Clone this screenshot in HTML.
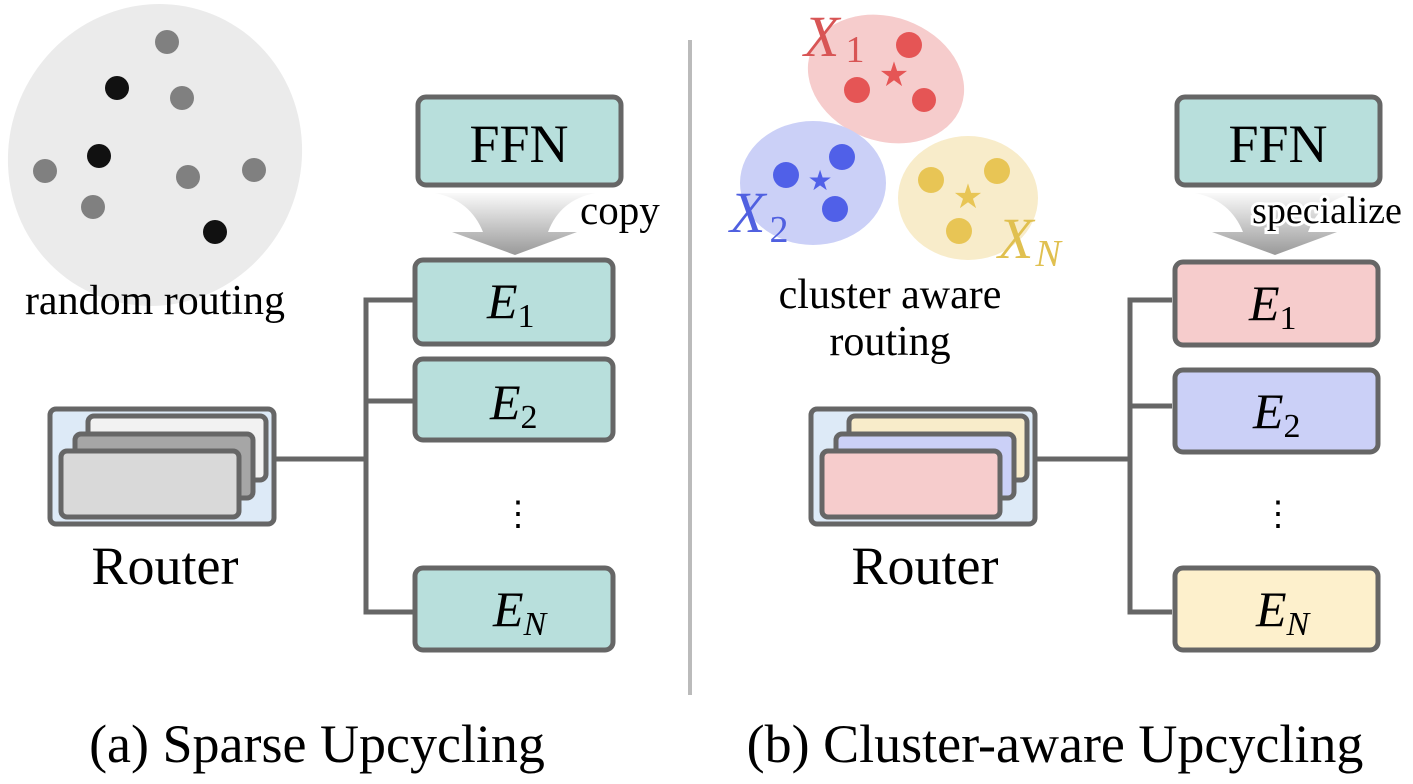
<!DOCTYPE html>
<html><head><meta charset="utf-8"><style>
body{margin:0;background:#fff;}
svg text{font-family:"Liberation Serif",serif;}
</style></head><body>
<svg width="1413" height="779" viewBox="0 0 1413 779" xmlns="http://www.w3.org/2000/svg">
<defs>
<linearGradient id="g" x1="0" y1="0" x2="0" y2="1"><stop offset="0" stop-color="#fafafa"/><stop offset="1" stop-color="#999"/></linearGradient>
</defs>
<ellipse cx="155" cy="155" rx="146" ry="152" fill="#ebebeb" transform="rotate(25 155 155)"/>
<g fill="#808080">
<circle cx="167" cy="42" r="12"/><circle cx="182" cy="98" r="12"/><circle cx="45" cy="171" r="12"/><circle cx="188" cy="177" r="12"/><circle cx="254" cy="170" r="12"/><circle cx="93" cy="207" r="12"/>
</g>
<g fill="#111"><circle cx="117" cy="88" r="12"/><circle cx="99" cy="156" r="12"/><circle cx="215" cy="232" r="12"/></g>
<text x="155" y="314" font-size="42" text-anchor="middle">random routing</text>

<line x1="690" y1="40" x2="690" y2="695" stroke="#bbb" stroke-width="4"/>

<g>
<rect x="418" y="97" width="203" height="88" rx="8" fill="#b8dfdc" stroke="#666" stroke-width="5"/>
<text x="519" y="162" font-size="54" text-anchor="middle">FFN</text>
<path d="M435 193 L595 193 Q560 200 548 232 L577 232 L515 255 L452 232 L483 232 Q470 200 435 193Z" fill="url(#g)"/>
<text x="580" y="224" font-size="41">copy</text>
<polyline points="413,300 366,300 366,612 413,612" fill="none" stroke="#666" stroke-width="5"/>
<line x1="366" y1="401" x2="413" y2="401" stroke="#666" stroke-width="5"/>
<line x1="275" y1="459" x2="366" y2="459" stroke="#666" stroke-width="5"/>
<rect x="415" y="260" width="198" height="84" rx="8" fill="#b8dfdc" stroke="#666" stroke-width="5"/>
<rect x="415" y="359" width="198" height="81" rx="8" fill="#b8dfdc" stroke="#666" stroke-width="5"/>
<rect x="415" y="568" width="198" height="82" rx="8" fill="#b8dfdc" stroke="#666" stroke-width="5"/>
<text x="487" y="318" font-size="50"><tspan font-style="italic">E</tspan><tspan font-size="34" dy="9">1</tspan></text>
<text x="490" y="419" font-size="50"><tspan font-style="italic">E</tspan><tspan font-size="34" dy="9">2</tspan></text>
<text x="518" y="525" font-size="34" text-anchor="middle">⋮</text>
<text x="493" y="626" font-size="50"><tspan font-style="italic">E</tspan><tspan font-size="34" dy="9" font-style="italic">N</tspan></text>
<rect x="50" y="409" width="224" height="115" rx="6" fill="#ddeaf7" stroke="#666" stroke-width="5"/>
<rect x="88" y="416" width="178" height="64" rx="6" fill="#f2f2f2" stroke="#666" stroke-width="5"/>
<rect x="75" y="434" width="178" height="64" rx="6" fill="#a6a6a6" stroke="#666" stroke-width="5"/>
<rect x="61" y="451" width="178" height="66" rx="6" fill="#d9d9d9" stroke="#666" stroke-width="5"/>
<text x="165" y="584" font-size="54" text-anchor="middle">Router</text>
</g>
<text x="317" y="762" font-size="54" text-anchor="middle">(a) Sparse Upcycling</text>

<ellipse cx="886" cy="79" rx="80" ry="62" fill="#f6cccc" transform="rotate(20 886 79)"/>
<ellipse cx="813" cy="183" rx="73" ry="62" fill="#cbd0f7"/>
<ellipse cx="968" cy="198" rx="70" ry="62" fill="#f8ecca"/>
<g fill="#e55555"><circle cx="909" cy="45" r="13"/><circle cx="857" cy="90" r="13"/><circle cx="924" cy="100" r="12"/></g>
<text x="894" y="86" font-size="34" fill="#e55555" text-anchor="middle">★</text>
<g fill="#5060e8"><circle cx="842" cy="157" r="13"/><circle cx="786" cy="175" r="13"/><circle cx="835" cy="209" r="13"/></g>
<text x="820" y="190" font-size="28" fill="#5060e8" text-anchor="middle">★</text>
<g fill="#e8c555"><circle cx="997" cy="171" r="13"/><circle cx="931" cy="180" r="13"/><circle cx="959" cy="231" r="13"/></g>
<text x="968" y="208" font-size="34" fill="#e8c555" text-anchor="middle">★</text>
<text x="804" y="56" font-size="58" fill="#d85555"><tspan font-style="italic">X</tspan><tspan font-size="38" dx="6" dy="6">1</tspan></text>
<text x="730" y="232" font-size="58" fill="#5060e0"><tspan font-style="italic">X</tspan><tspan font-size="38" dx="4" dy="10">2</tspan></text>
<text x="998" y="258" font-size="58" fill="#e0c050"><tspan font-style="italic">X</tspan><tspan font-size="38" font-style="italic" dx="2" dy="8">N</tspan></text>
<text x="890" y="308" font-size="42" text-anchor="middle">cluster aware</text>
<text x="890" y="355" font-size="42" text-anchor="middle">routing</text>

<g>
<rect x="1177" y="97" width="203" height="88" rx="8" fill="#b8dfdc" stroke="#666" stroke-width="5"/>
<text x="1278" y="162" font-size="54" text-anchor="middle">FFN</text>
<path d="M1195 193 L1355 193 Q1320 200 1308 232 L1337 232 L1275 255 L1212 232 L1243 232 Q1230 200 1195 193Z" fill="url(#g)"/>
<text x="1327" y="223" font-size="38" text-anchor="middle" stroke="#fff" stroke-width="6" paint-order="stroke">specialize</text>
<polyline points="1172,300 1130,300 1130,612 1172,612" fill="none" stroke="#666" stroke-width="5"/>
<line x1="1130" y1="406" x2="1172" y2="406" stroke="#666" stroke-width="5"/>
<line x1="1036" y1="459" x2="1130" y2="459" stroke="#666" stroke-width="5"/>
<rect x="1175" y="262" width="203" height="83" rx="8" fill="#f6cccc" stroke="#666" stroke-width="5"/>
<rect x="1175" y="370" width="203" height="82" rx="8" fill="#cbd0f7" stroke="#666" stroke-width="5"/>
<rect x="1175" y="568" width="203" height="82" rx="8" fill="#fdf0cc" stroke="#666" stroke-width="5"/>
<text x="1249" y="320" font-size="50"><tspan font-style="italic">E</tspan><tspan font-size="34" dy="9">1</tspan></text>
<text x="1253" y="428" font-size="50"><tspan font-style="italic">E</tspan><tspan font-size="34" dy="9">2</tspan></text>
<text x="1278" y="525" font-size="34" text-anchor="middle">⋮</text>
<text x="1256" y="626" font-size="50"><tspan font-style="italic">E</tspan><tspan font-size="34" dy="9" font-style="italic">N</tspan></text>
<rect x="811" y="409" width="224" height="115" rx="6" fill="#ddeaf7" stroke="#666" stroke-width="5"/>
<rect x="849" y="416" width="178" height="64" rx="6" fill="#f8ecca" stroke="#666" stroke-width="5"/>
<rect x="836" y="434" width="178" height="64" rx="6" fill="#cbd0f7" stroke="#666" stroke-width="5"/>
<rect x="822" y="451" width="178" height="66" rx="6" fill="#f6cccc" stroke="#666" stroke-width="5"/>
<text x="925" y="584" font-size="54" text-anchor="middle">Router</text>
</g>
<text x="1055" y="762" font-size="54" text-anchor="middle">(b) Cluster-aware Upcycling</text>
</svg>
</body></html>
